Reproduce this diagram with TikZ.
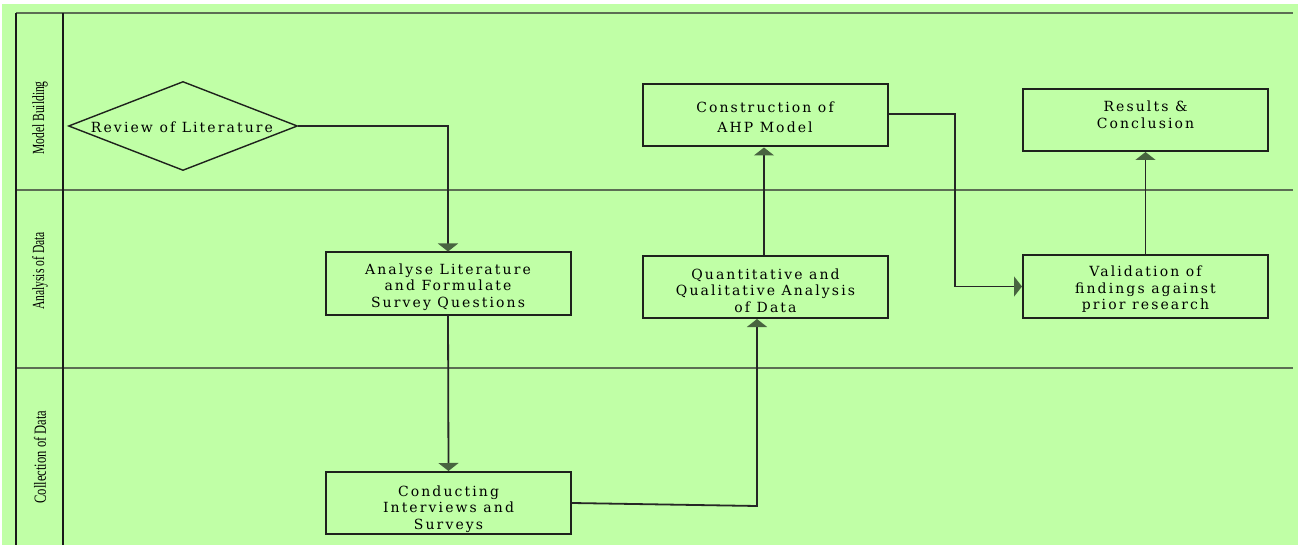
\documentclass[tikz,border=0pt]{standalone}
\usepackage{fontspec}
\setmainfont{Liberation Serif}
\newfontfamily\boxfont[LetterSpace=15]{DejaVu Serif}
\usetikzlibrary{shapes.geometric,arrows.meta}
\definecolor{bgreen}{RGB}{192,255,166}
\definecolor{lanegray}{RGB}{92,110,84}
\definecolor{tipgreen}{RGB}{72,100,64}
\definecolor{boxline}{RGB}{30,34,28}
\tikzset{
  stepbox/.style={draw=boxline, line width=2pt, rectangle, inner sep=0pt,
    minimum width=245pt, minimum height=62pt},
  boxtext/.style={align=center, inner sep=0pt, font=\boxfont\fontsize{14}{16.5}\selectfont},
  decision/.style={draw=boxline, line width=1.4pt, diamond, inner sep=0pt,
    minimum width=229pt, minimum height=89pt},
  lanelabel/.style={rotate=90, font=\fontsize{17}{19}\selectfont, inner sep=0pt},
  arr/.style={draw=black!85, line width=1.8pt,
    -{Triangle[width=20pt,length=8pt,fill=tipgreen,color=tipgreen]}},
  laneline/.style={draw=lanegray, line width=2.4pt},
  sideline/.style={draw=black!90, line width=2.4pt}
}
\begin{document}
\begin{tikzpicture}[x=1pt,y=-1pt]
\useasboundingbox (0,0) rectangle (1300,545);
\fill[white] (0,0) rectangle (1300,545);
\fill[bgreen] (2,4) rectangle (1298,545);
% lane structure
\draw[laneline] (16,13) -- (1293,13);
\draw[laneline] (16,190) -- (1293,190);
\draw[laneline] (16,368) -- (1293,368);
\draw[sideline] (16,13) -- (16,545);
\draw[sideline] (63,13) -- (63,545);
\node[lanelabel] (l1) at (40,118) {\scalebox{0.68}[1]{Model Building}};
\node[lanelabel] (l2) at (40,271) {\scalebox{0.68}[1]{Analysis of Data}};
\node[lanelabel] (l3) at (40,457) {\scalebox{0.74}[1]{Collection of Data}};
% nodes
\node[decision] (rev) at (183,126) {};
\node[boxtext] (revt) at (182,127) {Review of Literature};
\node[stepbox] (ana) at (448,283.5) {};
\node[boxtext] (anat) at (448,287) {Analyse Literature\\and Formulate\\Survey Questions};
\node[stepbox] (con) at (448.5,503) {};
\node[boxtext] (cont) at (448.5,509) {Conducting\\Interviews and\\Surveys};
\node[stepbox] (qua) at (765.5,287) {};
\node[boxtext] (quat) at (765.5,290.5) {Quantitative and\\Qualitative Analysis\\of Data};
\node[stepbox] (ahp) at (765,115.5) {};
\node[boxtext] (ahpt) at (765,117) {Construction of\\[3.5pt]AHP Model};
\node[stepbox] (val) at (1145.5,286.5) {};
\node[boxtext] (valt) at (1145.5,289.5) {Validation of\\findings against\\prior research};
\node[stepbox] (res) at (1145.5,120) {};
\node[boxtext] (rest) at (1145.5,115) {Results \&\\Conclusion};
% connectors
\draw[arr] (rev.east) -| (ana.north);
\draw[arr] (ana.south) -- (con.north);
\coordinate (k1) at (757,506);
\draw[arr] (con.east) -- (k1) -- (k1 |- qua.south);
\draw[arr] (qua.north -| 764,0) -- (ahp.south -| 764,0);
\coordinate (k2) at (955,114);
\draw[arr] (ahp.east |- k2) -- (k2) |- (val.west);
\draw[arr] (val.north) -- (res.south);
\end{tikzpicture}
\end{document}
